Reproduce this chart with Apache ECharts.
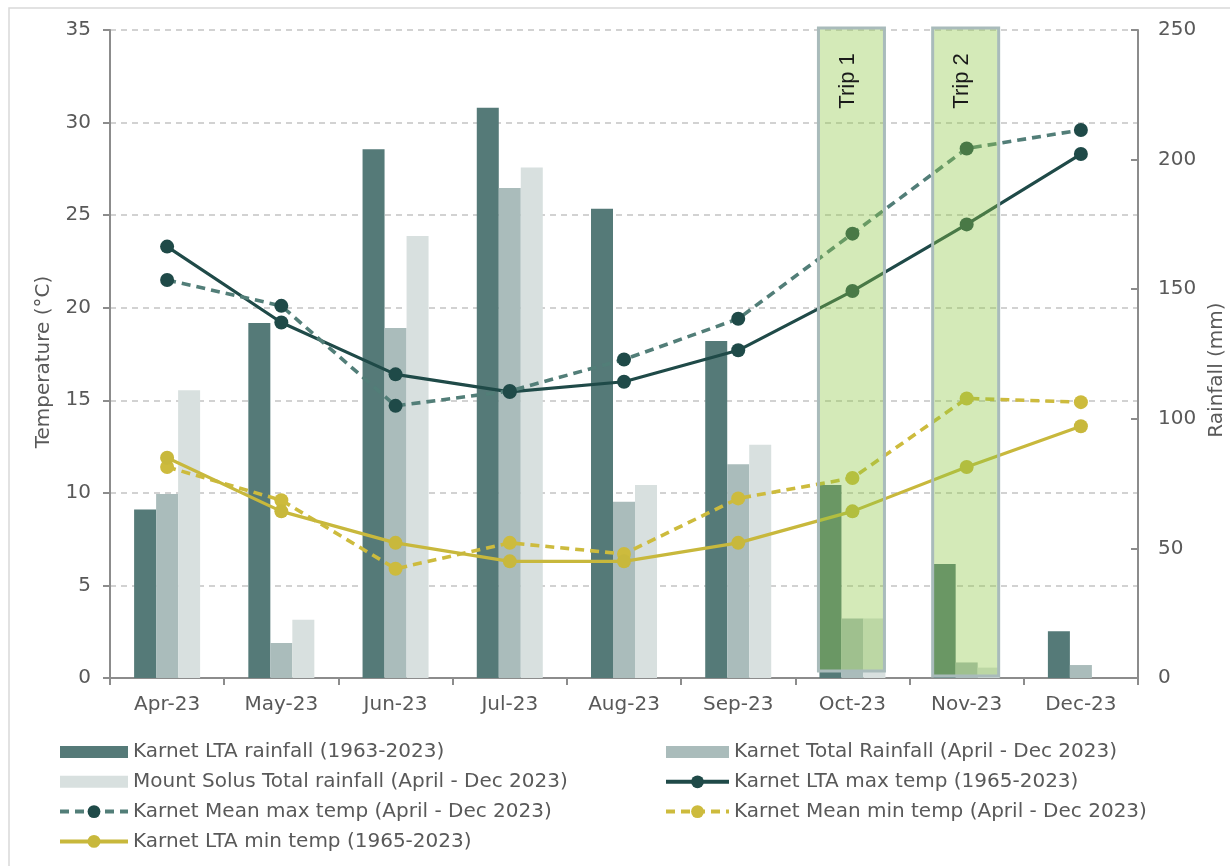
<!DOCTYPE html>
<html>
<head>
<meta charset="utf-8">
<script src="https://cdn.jsdelivr.net/npm/echarts@6/dist/echarts.min.js"></script>
<style>
  html, body { margin: 0; padding: 0; background: #ffffff; }
  #chart { width: 1230px; height: 866px; }
</style>
</head>
<body>
<div id="chart"></div>
<script>
// Monthly categories
const months = ['Apr-23', 'May-23', 'Jun-23', 'Jul-23', 'Aug-23', 'Sep-23', 'Oct-23', 'Nov-23', 'Dec-23'];

// Rainfall (mm)
const karnetLtaRain   = [65, 137, 204, 220, 181, 130, 74.5, 44, 18];
const karnetTotalRain = [71, 13.5, 135, 189, 68, 82.5, 23, 6, 5];
const solusTotalRain  = [111, 22.5, 170.5, 197, 74.5, 90, 23, 4, null];

// Temperature (°C)
const ltaMaxTemp  = [23.3, 19.2, 16.4, 15.45, 16.0, 17.7, 20.9, 24.5, 28.3];
const meanMaxTemp = [21.5, 20.1, 14.7, 15.5, 17.2, 19.4, 24.0, 28.6, 29.6];
const meanMinTemp = [11.4, 9.6, 5.9, 7.3, 6.7, 9.7, 10.8, 15.1, 14.9];
const ltaMinTemp  = [11.9, 9.0, 7.3, 6.3, 6.3, 7.3, 9.0, 11.4, 13.6];

// Field trips: month, rainfall-axis span (mm), label
const tripMonths = ['Oct-23', 'Nov-23'];
const tripLabels = ['Trip 1', 'Trip 2'];
const tripBottom = [2.7, 0.8];
const tripTop    = [250.8, 250.8];

// Axis ticks
const tempAxis = { min: 0, max: 35, interval: 5 };
const rainAxis = { min: 0, max: 250, interval: 50 };

const FONT = 'DejaVu Sans';
const FS = 20;
const TEXT = '#595959';
const AXIS = '#8c8c8c';

const names = {
  ltaRain: 'Karnet LTA rainfall (1963-2023)',
  totRain: 'Karnet Total Rainfall (April - Dec 2023)',
  solRain: 'Mount Solus Total rainfall (April - Dec 2023)',
  ltaMax: 'Karnet LTA max temp (1965-2023)',
  meanMax: 'Karnet Mean max temp (April - Dec 2023)',
  meanMin: 'Karnet Mean min temp (April - Dec 2023)',
  ltaMin: 'Karnet LTA min temp (1965-2023)'
};

const tripData = tripMonths.map((m, i) => [months.indexOf(m), tripBottom[i], tripTop[i], tripLabels[i]]);

const chart = echarts.init(document.getElementById('chart'), null, { renderer: 'canvas' });

const legendBase = {
  orient: 'vertical',
  top: 742,
  itemHeight: 16,
  itemGap: 9.8,
  padding: 0,
  textStyle: { fontFamily: FONT, fontSize: FS, color: TEXT, lineHeight: 20 },
  lineStyle: { width: 4 },
  selectedMode: false
};

chart.setOption({
  animation: false,
  backgroundColor: '#ffffff',
  textStyle: { fontFamily: FONT },
  graphic: [{
    type: 'rect',
    silent: true,
    shape: { x: 9, y: 8, width: 1240, height: 880 },
    style: { fill: 'none', stroke: '#d9d9d9', lineWidth: 1.5 }
  }],
  grid: { left: 110, right: 92, top: 30, bottom: 188, containLabel: false, outerBoundsMode: 'none' },
  legend: [
    Object.assign({}, legendBase, {
      left: 58,
      itemWidth: 68,
      data: [
        { name: names.ltaRain, icon: 'path://M0,0H68V12H0Z' },
        { name: names.solRain, icon: 'path://M0,0H68V12H0Z' },
        names.meanMax,
        names.ltaMin
      ]
    }),
    Object.assign({}, legendBase, {
      left: 664,
      itemWidth: 63,
      data: [
        { name: names.totRain, icon: 'path://M0,0H63V12H0Z' },
        names.ltaMax,
        names.meanMin
      ]
    })
  ],
  xAxis: {
    type: 'category',
    data: months,
    boundaryGap: true,
    axisLine: { lineStyle: { color: AXIS, width: 2 } },
    axisTick: { show: true, length: 7, lineStyle: { color: AXIS, width: 2 } },
    axisLabel: { color: TEXT, fontSize: FS, fontFamily: FONT, margin: 17 }
  },
  yAxis: [{
    type: 'value',
    min: tempAxis.min, max: tempAxis.max, interval: tempAxis.interval,
    name: 'Temperature (°C)',
    nameLocation: 'middle',
    nameGap: 56,
    nameTextStyle: { color: TEXT, fontSize: FS, fontFamily: FONT, padding: [0, 16, 0, 0] },
    axisLine: { show: true, lineStyle: { color: AXIS, width: 2 } },
    axisTick: { show: true, length: 7, lineStyle: { color: AXIS, width: 2 } },
    axisLabel: { color: TEXT, fontSize: FS, fontFamily: FONT, margin: 19 },
    splitLine: { show: true, lineStyle: { color: '#c4c4c4', width: 1.6, type: [6, 5] } }
  }, {
    type: 'value',
    min: rainAxis.min, max: rainAxis.max, interval: rainAxis.interval,
    name: 'Rainfall (mm)',
    nameLocation: 'middle',
    nameGap: 62,
    nameTextStyle: { color: TEXT, fontSize: FS, fontFamily: FONT, padding: [0, 32, 0, 0] },
    axisLine: { show: true, lineStyle: { color: AXIS, width: 2 } },
    axisTick: { show: true, inside: true, length: 7, lineStyle: { color: AXIS, width: 2 } },
    axisLabel: { color: TEXT, fontSize: FS, fontFamily: FONT, margin: 20 },
    splitLine: { show: false }
  }],
  series: [
    {
      name: names.ltaRain, type: 'bar', yAxisIndex: 1, data: karnetLtaRain,
      barWidth: 22, barGap: '0%', itemStyle: { color: '#557a78' }
    },
    {
      name: names.totRain, type: 'bar', yAxisIndex: 1, data: karnetTotalRain,
      barWidth: 22, barGap: '0%', itemStyle: { color: '#aabcbb' }
    },
    {
      name: names.solRain, type: 'bar', yAxisIndex: 1, data: solusTotalRain,
      barWidth: 22, barGap: '0%', itemStyle: { color: '#d8e0df' }
    },
    {
      name: names.ltaMax, type: 'line', yAxisIndex: 0, data: ltaMaxTemp,
      symbol: 'circle', symbolSize: 14,
      lineStyle: { color: '#1f4a48', width: 3.2 },
      itemStyle: { color: '#1f4a48' }
    },
    {
      name: names.meanMax, type: 'line', yAxisIndex: 0, data: meanMaxTemp,
      symbol: 'circle', symbolSize: 14,
      lineStyle: { color: '#527e78', width: 3.6, type: [9, 6] },
      itemStyle: { color: '#1f4a48' }
    },
    {
      name: names.meanMin, type: 'line', yAxisIndex: 0, data: meanMinTemp,
      symbol: 'circle', symbolSize: 14,
      lineStyle: { color: '#cdbb3d', width: 3.6, type: [9, 6] },
      itemStyle: { color: '#cdbb3d' }
    },
    {
      name: names.ltaMin, type: 'line', yAxisIndex: 0, data: ltaMinTemp,
      symbol: 'circle', symbolSize: 14,
      lineStyle: { color: '#c8b83c', width: 3.2 },
      itemStyle: { color: '#c8b83c' }
    },
    {
      // Translucent highlight boxes marking the field trip months
      name: 'trips', type: 'custom', yAxisIndex: 1, xAxisIndex: 0,
      z: 5, clip: false, silent: true,
      data: tripData,
      renderItem: function (params, api) {
        const top = api.coord([api.value(0), api.value(2)]);
        const bot = api.coord([api.value(0), api.value(1)]);
        const w = 66;
        const cx = top[0] - 1;
        const label = tripData[params.dataIndex][3];
        return {
          type: 'group',
          children: [{
            type: 'rect',
            shape: { x: cx - w / 2, y: top[1], width: w, height: bot[1] - top[1] },
            style: { fill: 'rgba(141,199,69,0.38)', stroke: '#a9bbbb', lineWidth: 3 }
          }, {
            type: 'text',
            x: cx - 4,
            y: top[1] + 53,
            rotation: Math.PI / 2,
            style: {
              text: label,
              fontFamily: 'Liberation Sans',
              fontSize: 22,
              fill: '#1a1a1a',
              align: 'center',
              verticalAlign: 'middle'
            }
          }]
        };
      }
    }
  ]
});
</script>
</body>
</html>
